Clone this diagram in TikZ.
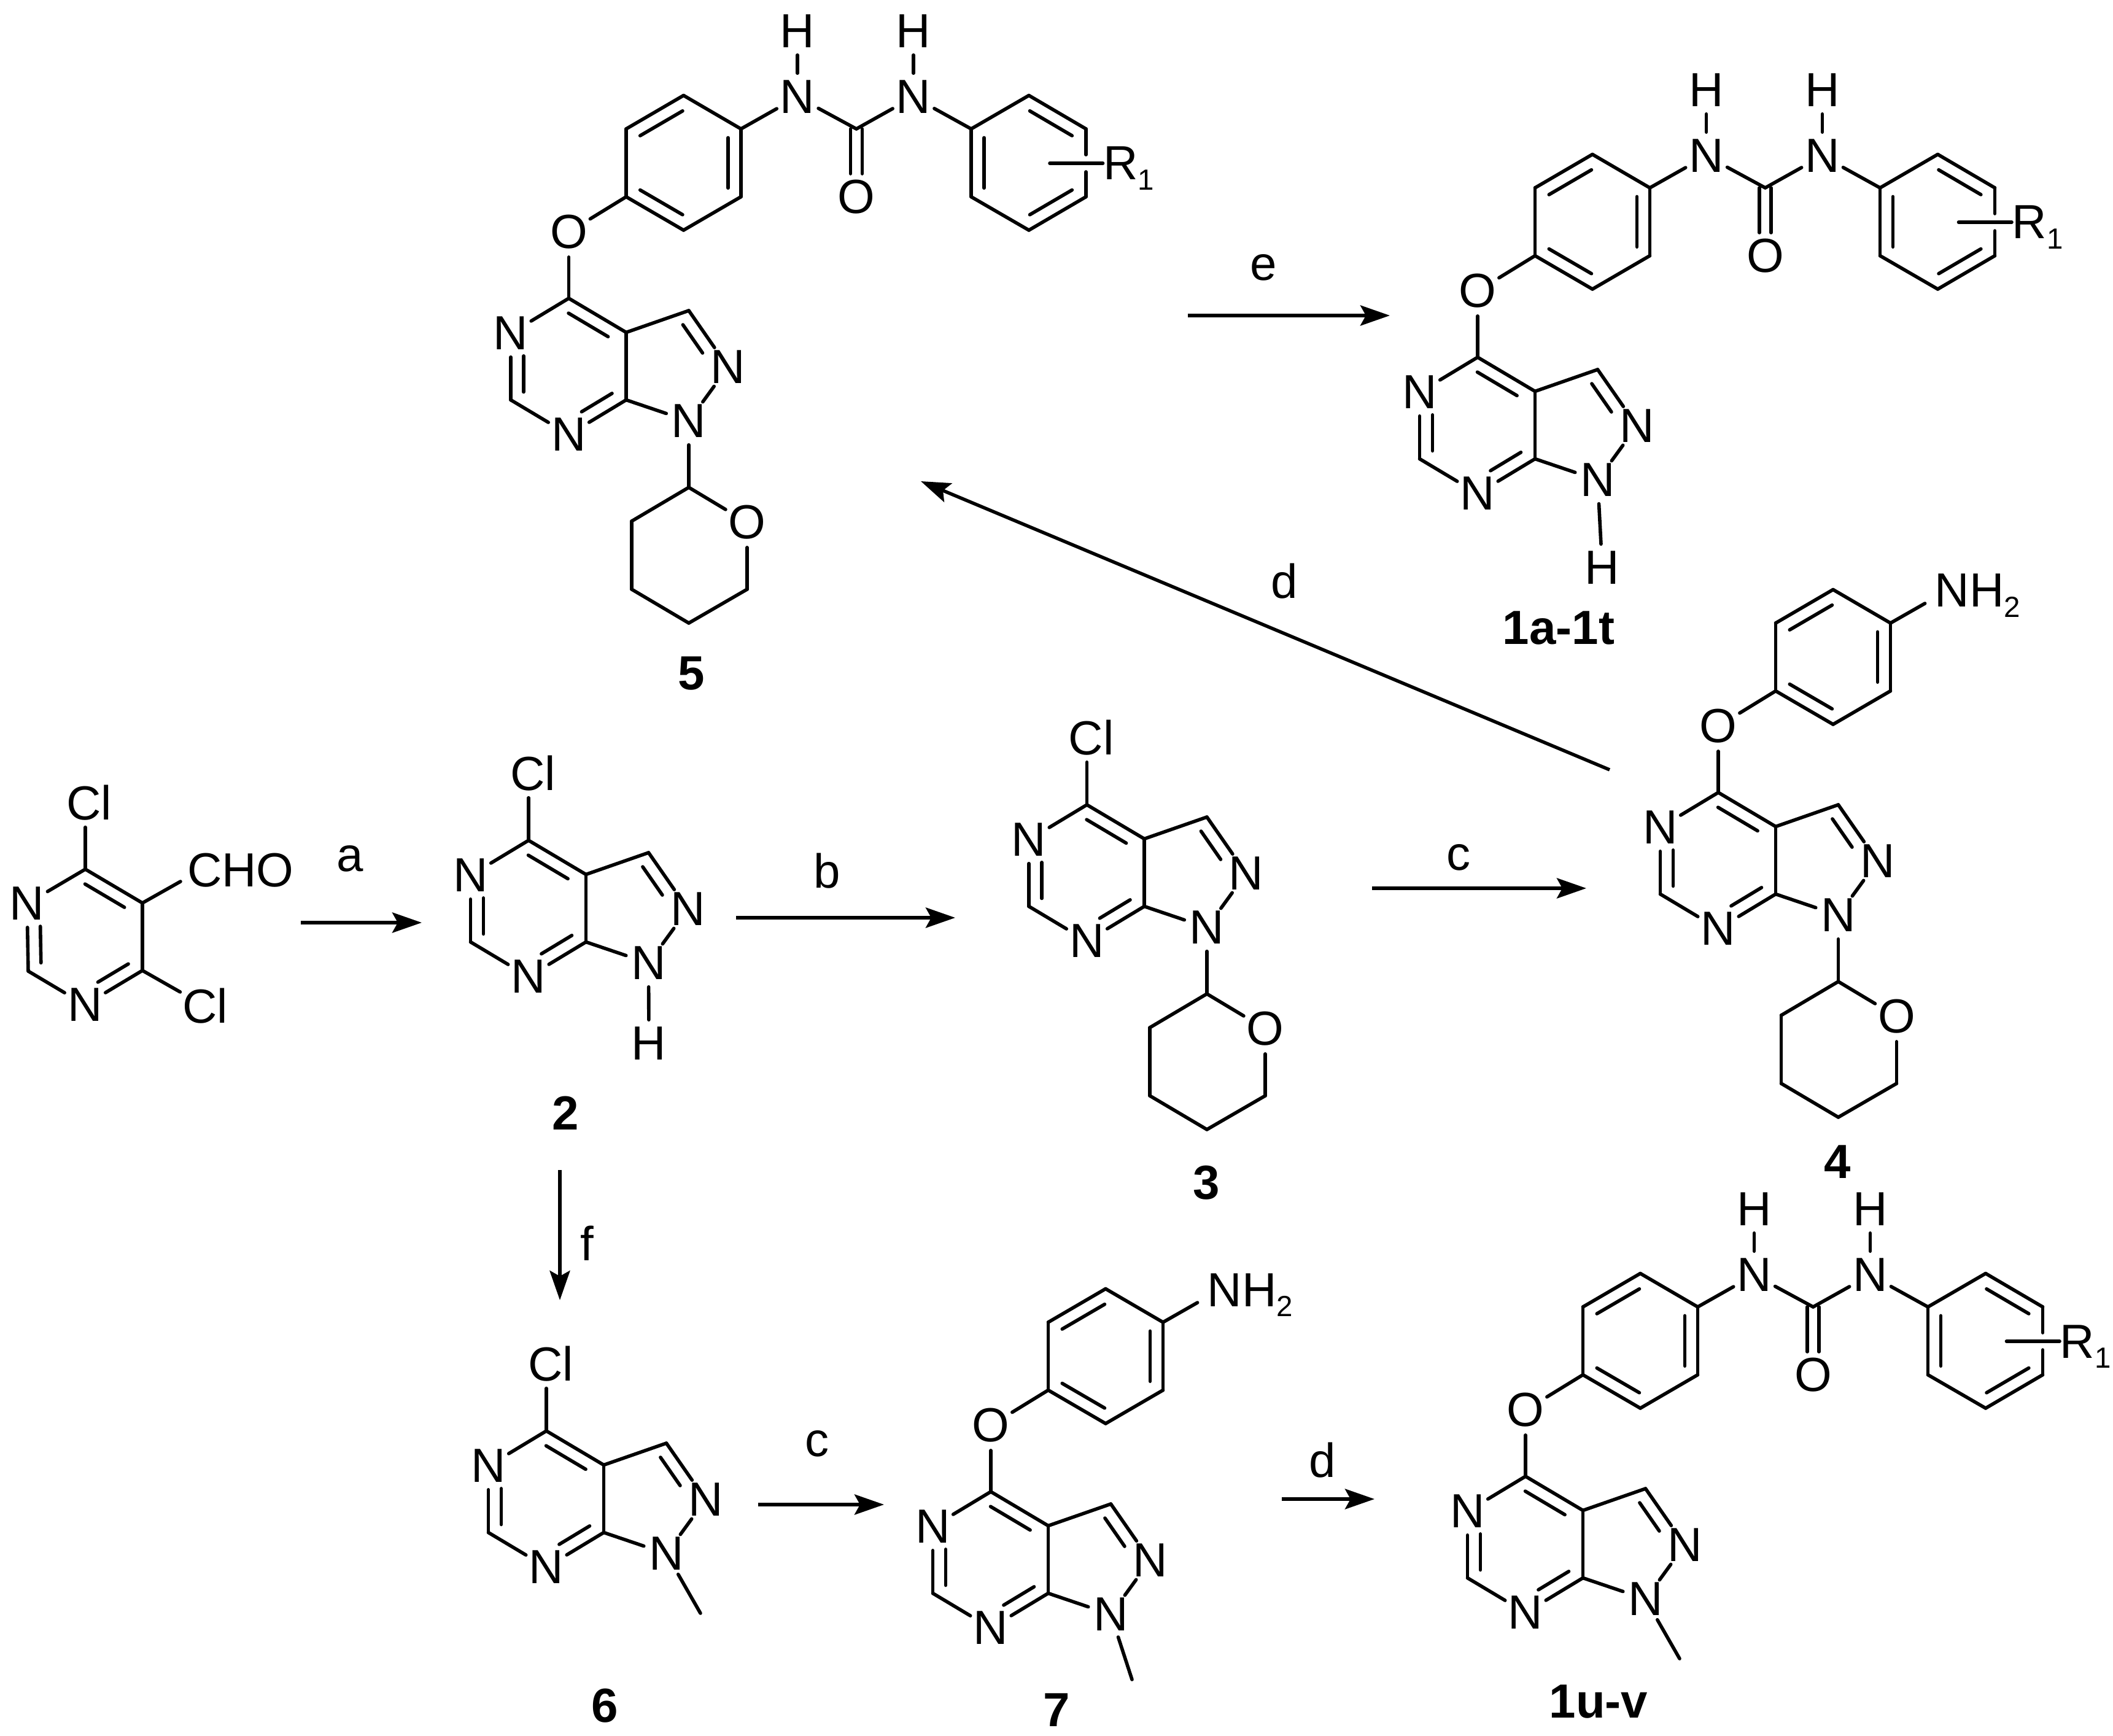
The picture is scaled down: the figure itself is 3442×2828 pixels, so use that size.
\documentclass[tikz,border=0pt]{standalone}
\usepackage{fontspec}
\setmainfont{Liberation Sans}
\usetikzlibrary{calc,arrows.meta}
\newcommand\lfont{\fontsize{22.2}{24}\selectfont}
\newcommand\subs[1]{\raisebox{-.16cm}{\fontsize{13.5}{14}\selectfont #1}}
\tikzset{
  bond/.style={line width=.056cm,line cap=round,line join=round},
  atom/.style={circle,inner sep=0pt,outer sep=0pt,font=\lfont},
  lab/.style={inner sep=0pt,font=\lfont},
  clab/.style={inner sep=0pt,outer ysep=.11cm,font=\lfont},
  cmpd/.style={inner sep=0pt,font=\lfont\bfseries},
  rxn/.style={line width=.055cm,-{Stealth[length=.48cm,width=.33cm,inset=.09cm]}}
}
\newcommand\bd[2]{\draw[bond] (#1) -- (#2);}
% inner line of a double bond: from, to, side angle, end fractions
\newcommand\dbl[5]{\draw[bond] ($($(#1)!#4!(#2)$)!.21cm!#3:(#2)$) -- ($($(#2)!#5!(#1)$)!-.21cm!#3:(#1)$);}
% fused pyrazolo-pyrimidine core
\newcommand\core[3]{%
  \begin{scope}[shift={(#2,#3)}]
    \coordinate (#1c4) at (0,0);
    \node[atom] (#1n3) at (-94.5,57) {N};
    \coordinate (#1c2) at (-94.5,165.5);
    \node[atom] (#1n1) at (0,222) {N};
    \coordinate (#1c7) at (93.5,165.5);
    \coordinate (#1c3) at (93.5,55.5);
    \coordinate (#1ch) at (195.5,20);
    \node[atom] (#1n2) at (259.5,112) {N};
    \node[atom] (#1n9) at (195.5,200) {N};
  \end{scope}
  \bd{#1c4}{#1n3}\bd{#1n3}{#1c2}\bd{#1c2}{#1n1}\bd{#1n1}{#1c7}\bd{#1c7}{#1c3}\bd{#1c3}{#1c4}
  \bd{#1c3}{#1ch}\bd{#1ch}{#1n2}\bd{#1n2}{#1n9}\bd{#1n9}{#1c7}
  \dbl{#1n3}{#1c2}{90}{.34}{.12}
  \dbl{#1n1}{#1c7}{90}{.34}{.13}
  \dbl{#1c4}{#1c3}{-90}{.11}{.2}
  \dbl{#1ch}{#1n2}{-90}{.12}{.38}
}
% O-phenylene on C4
\newcommand\oaryl[3]{%
  \begin{scope}[shift={(#2,#3)}]
    \node[atom] (#1o) at (0,-108) {O};
    \coordinate (#1a1) at (93.5,-165.4);
    \coordinate (#1a2) at (93.5,-276);
    \coordinate (#1a3) at (187,-330.5);
    \coordinate (#1a4) at (280.5,-276);
    \coordinate (#1a5) at (280.5,-165.4);
    \coordinate (#1a6) at (187,-111);
  \end{scope}
  \bd{#1c4}{#1o}\bd{#1o}{#1a1}\bd{#1a1}{#1a2}\bd{#1a2}{#1a3}\bd{#1a3}{#1a4}\bd{#1a4}{#1a5}\bd{#1a5}{#1a6}\bd{#1a6}{#1a1}
  \dbl{#1a2}{#1a3}{-90}{.13}{.13}
  \dbl{#1a4}{#1a5}{-90}{.13}{.13}
  \dbl{#1a6}{#1a1}{-90}{.13}{.13}
}
% urea and R1 aryl on the phenylene
\newcommand\urea[3]{%
  \begin{scope}[shift={(#2,#3)}]
    \node[atom] (#1ua) at (372.5,-328) {N};
    \node[atom] (#1ha) at (372.5,-435) {H};
    \coordinate (#1uc) at (468.5,-276);
    \node[atom] (#1uo) at (468.5,-165) {O};
    \node[atom] (#1ub) at (561.5,-328) {N};
    \node[atom] (#1hb) at (561.5,-435) {H};
    \coordinate (#1r1) at (655.5,-276);
    \coordinate (#1r2) at (749.5,-330.5);
    \coordinate (#1r3) at (842.5,-276);
    \coordinate (#1gu) at (842.5,-234);
    \coordinate (#1gd) at (842.5,-206);
    \coordinate (#1r4) at (842.5,-165.4);
    \coordinate (#1r5) at (749.5,-111);
    \coordinate (#1r6) at (655.5,-165.4);
    \coordinate (#1rb) at (783.5,-220);
    \node[lab,anchor=base west] (#1rr) at (870,-193) {R\subs{1}};
  \end{scope}
  \bd{#1a4}{#1ua}\bd{#1ua}{#1ha}\bd{#1ua}{#1uc}\bd{#1uc}{#1ub}\bd{#1ub}{#1hb}\bd{#1ub}{#1r1}
  \draw[bond,shorten >=.38cm] ($(#1uc)!.095cm!90:(#1uo)$) -- ($(#1uo)!-.095cm!90:(#1uc)$);
  \draw[bond,shorten >=.38cm] ($(#1uc)!-.095cm!90:(#1uo)$) -- ($(#1uo)!.095cm!90:(#1uc)$);
  \bd{#1r1}{#1r2}\bd{#1r2}{#1r3}\bd{#1r3}{#1gu}\bd{#1gd}{#1r4}\bd{#1r4}{#1r5}\bd{#1r5}{#1r6}\bd{#1r6}{#1r1}
  \dbl{#1r2}{#1r3}{-90}{.13}{.13}
  \dbl{#1r4}{#1r5}{-90}{.13}{.13}
  \dbl{#1r6}{#1r1}{-90}{.13}{.13}
  \draw[bond] (#1rb) -- (#1rb -| #1rr.west);
}
% tetrahydropyranyl on N1
\newcommand\thp[3]{%
  \begin{scope}[shift={(#2,#3)}]
    \coordinate (#1t1) at (195.5,308);
    \node[atom] (#1to) at (290.5,365) {O};
    \coordinate (#1t3) at (290.5,474);
    \coordinate (#1t4) at (195.5,529);
    \coordinate (#1t5) at (102.5,474);
    \coordinate (#1t6) at (102.5,363);
  \end{scope}
  \bd{#1n9}{#1t1}\bd{#1t1}{#1to}\bd{#1to}{#1t3}\bd{#1t3}{#1t4}\bd{#1t4}{#1t5}\bd{#1t5}{#1t6}\bd{#1t6}{#1t1}
}
% NH2 on the phenylene
\newcommand\amino[3]{%
  \begin{scope}[shift={(#2,#3)}]
    \coordinate (#1nb) at (336.6,-308);
    \node[lab,anchor=base west] (#1nh) at (352,-302) {NH\subs{2}};
  \end{scope}
  \bd{#1a4}{#1nb}
}
% Cl on C4
\newcommand\chloro[3]{%
  \begin{scope}[shift={(#2,#3)}]
    \node[clab] (#1cl) at (7,-109) {Cl};
  \end{scope}
  \draw[bond] (#1c4) -- (#1c4 |- #1cl.south);
}
% H or methyl on N1
\newcommand\nhyd[5]{%
  \begin{scope}[shift={(#2,#3)}]
    \node[atom] (#1hn) at (#4,#5) {H};
  \end{scope}
  \bd{#1n9}{#1hn}
}
\newcommand\methyl[5]{%
  \begin{scope}[shift={(#2,#3)}]
    \coordinate (#1me) at (#4,#5);
  \end{scope}
  \bd{#1n9}{#1me}
}
\begin{document}
\begin{tikzpicture}[x=.01cm,y=-.01cm]
\fill[white] (0,0) rectangle (3442,2828);

% 4,6-dichloropyrimidine-5-carbaldehyde
\coordinate (dc1) at (139,1416);
\node[atom] (dn1) at (44,1472) {N};
\coordinate (dc2) at (46,1582);
\node[atom] (dn2) at (138.5,1637) {N};
\coordinate (dc3) at (232,1581);
\coordinate (dc4) at (232,1471);
\node[clab] (dcl1) at (145,1308) {Cl};
\node[atom] (dcl2) at (334,1639) {Cl};
\node[lab,anchor=west] (dcho) at (304.5,1418) {CHO};
\coordinate (dchb) at (294,1436);
\bd{dc1}{dn1}\bd{dn1}{dc2}\bd{dc2}{dn2}\bd{dn2}{dc3}\bd{dc3}{dc4}\bd{dc4}{dc1}
\dbl{dn1}{dc2}{90}{.34}{.12}
\dbl{dn2}{dc3}{90}{.34}{.13}
\dbl{dc1}{dc4}{-90}{.11}{.2}
\draw[bond] (dc1) -- (dc1 |- dcl1.south);
\bd{dc3}{dcl2}
\bd{dc4}{dchb}

% 2
\core{b}{861}{1369}\chloro{b}{861}{1369}\nhyd{b}{861}{1369}{196}{331}
% 3
\core{c}{1770.5}{1311}\chloro{c}{1770.5}{1311}\thp{c}{1770.5}{1311}
% 4
\core{d}{2799}{1291}\oaryl{d}{2799}{1291}\amino{d}{2799}{1291}\thp{d}{2799}{1291}
% 5
\core{e}{926.5}{486}\oaryl{e}{926.5}{486}\urea{e}{926.5}{486}\thp{e}{926.5}{486}
% 1a-1t
\core{a}{2407}{582}\oaryl{a}{2407}{582}\urea{a}{2407}{582}\nhyd{a}{2407}{582}{203}{343}
% 6
\core{f}{890}{2331}\chloro{f}{890}{2331}\methyl{f}{890}{2331}{251}{297}
% 7
\core{g}{1614}{2430}\oaryl{g}{1614}{2430}\amino{g}{1614}{2430}\methyl{g}{1614}{2430}{230}{306}
% 1u-v
\core{u}{2485}{2405}\oaryl{u}{2485}{2405}\urea{u}{2485}{2405}\methyl{u}{2485}{2405}{251}{297}

% compound numbers
\node[cmpd] (l5) at (1126,1097) {5};
\node[cmpd] (l1a) at (2539,1023) {1a-1t};
\node[cmpd] (l2) at (921,1813) {2};
\node[cmpd] (l3) at (1965,1927) {3};
\node[cmpd] (l4) at (2993,1893) {4};
\node[cmpd] (l6) at (985,2779) {6};
\node[cmpd] (l7) at (1721,2786) {7};
\node[cmpd] (l1u) at (2604,2772) {1u-v};

% reaction arrows
\coordinate (as) at (490,1503);  \coordinate (ae) at (687,1503);
\coordinate (bs) at (1199,1495); \coordinate (be) at (1556,1495);
\coordinate (cs) at (2235,1447); \coordinate (ce) at (2584,1447);
\coordinate (ds) at (2622,1254); \coordinate (de) at (1500,784);
\coordinate (es) at (1935,514);  \coordinate (ee) at (2264,514);
\coordinate (fs) at (912,1906);  \coordinate (fe) at (912,2118);
\coordinate (gs) at (1235,2451); \coordinate (ge) at (1440,2451);
\coordinate (hs) at (2088,2442); \coordinate (he) at (2239,2442);
\draw[rxn] (as) -- (ae);
\draw[rxn] (bs) -- (be);
\draw[rxn] (cs) -- (ce);
\draw[rxn] (ds) -- (de);
\draw[rxn] (es) -- (ee);
\draw[rxn] (fs) -- (fe);
\draw[rxn] (gs) -- (ge);
\draw[rxn] (hs) -- (he);

% reagent letters
\node[lab] (ra) at (570,1399) {a};
\node[lab] (rb) at (1347,1419) {b};
\node[lab] (rc) at (2376,1397) {c};
\node[lab] (rd) at (2092,947) {d};
\node[lab] (re) at (2058,436) {e};
\node[lab] (rf) at (956,2025) {f};
\node[lab] (rg) at (1331,2352) {c};
\node[lab] (rh) at (2154,2379) {d};
\end{tikzpicture}
\end{document}
